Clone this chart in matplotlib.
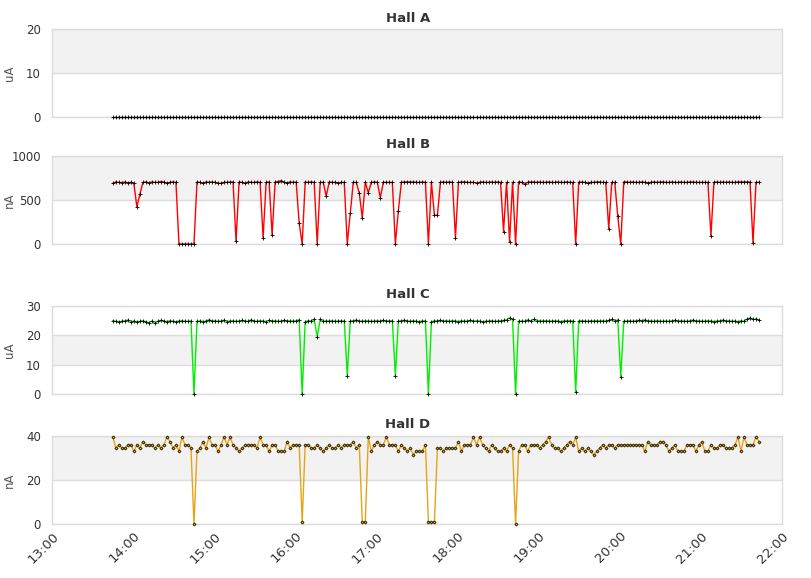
import matplotlib
matplotlib.use("Agg")
import matplotlib.pyplot as plt
import matplotlib.dates as mdates
import pandas as pd

# sample times (one reading every ~2.2 min)
t_start = "2024-01-01 13:45"
t_end = "2024-01-01 21:43"
n_points = 216

hall_a = [
    0, 0, 0, 0, 0, 0, 0, 0, 0, 0, 0, 0, 0, 0, 0, 0, 0, 0, 0, 0, 0, 0, 0, 0,
    0, 0, 0, 0, 0, 0, 0, 0, 0, 0, 0, 0, 0, 0, 0, 0, 0, 0, 0, 0, 0, 0, 0, 0,
    0, 0, 0, 0, 0, 0, 0, 0, 0, 0, 0, 0, 0, 0, 0, 0, 0, 0, 0, 0, 0, 0, 0, 0,
    0, 0, 0, 0, 0, 0, 0, 0, 0, 0, 0, 0, 0, 0, 0, 0, 0, 0, 0, 0, 0, 0, 0, 0,
    0, 0, 0, 0, 0, 0, 0, 0, 0, 0, 0, 0, 0, 0, 0, 0, 0, 0, 0, 0, 0, 0, 0, 0,
    0, 0, 0, 0, 0, 0, 0, 0, 0, 0, 0, 0, 0, 0, 0, 0, 0, 0, 0, 0, 0, 0, 0, 0,
    0, 0, 0, 0, 0, 0, 0, 0, 0, 0, 0, 0, 0, 0, 0, 0, 0, 0, 0, 0, 0, 0, 0, 0,
    0, 0, 0, 0, 0, 0, 0, 0, 0, 0, 0, 0, 0, 0, 0, 0, 0, 0, 0, 0, 0, 0, 0, 0,
    0, 0, 0, 0, 0, 0, 0, 0, 0, 0, 0, 0, 0, 0, 0, 0, 0, 0, 0, 0, 0, 0, 0, 0,
]

hall_b = [
    690, 705, 700, 698, 705, 695, 700, 690, 420, 565, 700, 705,
    695, 705, 700, 700, 710, 705, 690, 700, 705, 700, 0, 0,
    0, 0, 0, 0, 705, 700, 690, 705, 700, 705, 700, 690,
    690, 700, 700, 705, 705, 30, 705, 700, 690, 705, 700, 700,
    705, 700, 72, 700, 705, 99, 705, 710, 720, 700, 695, 705,
    700, 705, 235, 0, 705, 700, 705, 700, 0, 700, 700, 545,
    705, 700, 700, 695, 700, 700, 0, 350, 700, 700, 576, 300,
    700, 583, 700, 705, 700, 526, 700, 700, 700, 700, 0, 378,
    700, 705, 705, 705, 705, 700, 700, 705, 700, 0, 700, 326,
    326, 700, 705, 700, 705, 700, 72, 700, 705, 705, 700, 700,
    700, 695, 700, 705, 700, 700, 705, 700, 705, 700, 140, 700,
    26, 700, 0, 705, 700, 680, 700, 705, 705, 700, 705, 700,
    700, 705, 700, 700, 705, 700, 700, 705, 700, 700, 0, 700,
    705, 700, 690, 700, 700, 705, 705, 700, 700, 174, 700, 700,
    318, 0, 705, 705, 700, 705, 700, 700, 705, 700, 695, 700,
    705, 700, 705, 705, 700, 700, 705, 700, 700, 705, 700, 700,
    705, 705, 700, 700, 700, 700, 700, 95, 700, 705, 700, 705,
    700, 705, 700, 700, 705, 705, 705, 705, 705, 15, 700, 700,
]

hall_c = [
    25.0, 24.8, 24.6, 24.8, 25.0, 25.2, 24.7, 24.9, 24.5, 24.8, 25.0, 24.6,
    24.3, 24.9, 24.2, 24.8, 25.1, 24.9, 24.7, 25.0, 24.8, 24.6, 24.9, 25.0,
    24.8, 24.8, 24.9, 0.0, 24.8, 24.9, 24.7, 24.9, 25.3, 24.9, 25.0, 24.8,
    24.9, 25.2, 24.7, 24.9, 25.0, 24.8, 24.9, 25.1, 24.9, 24.8, 25.3, 24.9,
    24.8, 25.0, 24.9, 24.7, 25.1, 24.9, 25.0, 24.8, 24.9, 25.1, 24.9, 25.0,
    24.8, 25.0, 25.3, 0.0, 24.7, 25.0, 24.9, 25.4, 19.5, 25.4, 24.8, 24.9,
    24.9, 25.0, 24.8, 24.9, 25.0, 24.9, 6.3, 24.9, 25.0, 25.2, 24.9, 24.8,
    25.0, 24.9, 24.8, 24.9, 25.0, 24.9, 25.1, 24.9, 25.0, 25.0, 6.3, 24.9,
    25.0, 25.1, 24.9, 24.8, 25.0, 24.8, 24.7, 24.9, 25.0, 0.0, 24.7, 24.9,
    25.0, 25.1, 24.9, 25.0, 24.8, 25.0, 24.9, 24.7, 25.0, 24.9, 24.8, 25.1,
    24.9, 25.0, 24.9, 24.6, 24.8, 24.9, 25.0, 24.8, 24.9, 25.0, 25.1, 25.3,
    26.0, 25.4, 0.0, 24.8, 24.9, 24.8, 25.3, 24.9, 25.4, 24.9, 25.0, 24.9,
    25.0, 24.9, 24.8, 25.0, 24.9, 24.7, 24.9, 25.0, 25.0, 24.9, 0.8, 24.9,
    25.0, 24.9, 24.8, 25.0, 24.9, 25.0, 24.9, 25.0, 24.9, 25.1, 25.4, 24.9,
    25.3, 5.9, 24.8, 24.9, 25.0, 24.8, 25.0, 25.1, 25.0, 25.3, 24.9, 25.0,
    24.8, 25.0, 24.9, 24.8, 24.9, 24.8, 25.0, 25.1, 24.9, 25.0, 24.9, 24.8,
    25.0, 25.2, 24.9, 25.0, 24.8, 24.9, 25.0, 24.9, 24.7, 24.9, 25.0, 25.2,
    24.9, 25.0, 24.8, 24.9, 24.6, 25.0, 24.8, 25.5, 26.0, 25.4, 25.6, 25.3,
]

hall_d = [
    39.5, 34.5, 36, 34.5, 34.5, 36, 36, 33, 36, 34.5, 37.5, 36,
    36, 36, 34.5, 36, 34.5, 36, 39.5, 37.5, 34.5, 36, 33, 39.5,
    36, 36, 34.5, 0, 33, 34.5, 37.5, 34.5, 39.5, 36, 36, 33,
    36, 39.5, 36, 39.5, 36, 34.5, 33, 34.5, 36, 36, 36, 36,
    34.5, 39.5, 36, 36, 33, 36, 36, 33, 33, 33, 37.5, 34.5,
    36, 36, 36, 1, 36, 36, 34.5, 34.5, 36, 34.5, 33, 34.5,
    36, 34.5, 34.5, 36, 34.5, 36, 36, 36, 37.5, 34.5, 36, 1,
    1, 39.5, 33, 36, 37.5, 36, 36, 39.5, 36, 36, 36, 33,
    36, 34.5, 33, 34.5, 31.5, 33, 33, 33, 36, 1, 1, 1,
    34.5, 34.5, 33, 34.5, 34.5, 34.5, 34.5, 37.5, 33, 36, 36, 36,
    39.5, 36, 39.5, 36, 34.5, 33, 36, 34.5, 33, 33, 34.5, 33,
    36, 34.5, 0, 33, 36, 36, 33, 36, 36, 36, 34.5, 36,
    37.5, 39.5, 36, 34.5, 34.5, 33, 34.5, 36, 37.5, 36, 39.5, 33,
    34.5, 33, 34.5, 33, 31.5, 33, 34.5, 36, 34.5, 36, 36, 34.5,
    36, 36, 36, 36, 36, 36, 36, 36, 36, 33, 37.5, 36,
    36, 36, 37.5, 37.5, 36, 33, 34.5, 36, 33, 33, 33, 36,
    36, 36, 33, 36, 37.5, 33, 33, 36, 34.5, 34.5, 36, 36,
    34.5, 34.5, 34.5, 36, 39.5, 33, 39.5, 36, 36, 36, 39.5, 37.5,
]

titles = ["Hall A", "Hall B", "Hall C", "Hall D"]
units = ["uA", "nA", "uA", "nA"]
y_ticks = [[0, 10, 20], [0, 500, 1000], [0, 10, 20, 30], [0, 20, 40]]
colors = ["#000000", "#ff0000", "#00ee00", "#e6a417"]
series = [hall_a, hall_b, hall_c, hall_d]

times = pd.date_range(t_start, t_end, periods=n_points)

fig = plt.figure(figsize=(8.11, 5.78), dpi=100)
plt.rcParams["font.family"] = "DejaVu Sans"

# axes boxes in pixels: (top, bottom)
W, H = 811, 578
left, right = 52, 782
boxes = [(29, 117), (156, 244), (306, 394), (436, 524)]

grid_col = "#dcdcdc"
band_col = "#f2f2f2"

axes = []
for i, (top, bot) in enumerate(boxes):
    ax = fig.add_axes([left / W, 1 - bot / H, (right - left) / W, (bot - top) / H])
    axes.append(ax)
    ticks = y_ticks[i]
    ax.set_ylim(ticks[0], ticks[-1])
    ax.set_yticks(ticks)
    # alternating bands
    for k in range(len(ticks) - 1):
        if k % 2 == 1:
            ax.axhspan(ticks[k], ticks[k + 1], color=band_col, lw=0, zorder=0)
    for t in ticks:
        ax.axhline(t, color=grid_col, lw=1, zorder=1)
    for s in ax.spines.values():
        s.set_color(grid_col)
        s.set_linewidth(1)

    if i == 3:
        ax.plot(times, series[i], color=colors[i], lw=1, zorder=3, clip_on=False,
                marker="D", ms=1.6, mfc=colors[i], mec="black", mew=0.5)
    else:
        ax.plot(times, series[i], color=colors[i], lw=1, zorder=3, clip_on=False,
                marker="+", ms=3, mec="black", mew=0.6)

    ax.set_xlim(pd.Timestamp("2024-01-01 13:00"), pd.Timestamp("2024-01-01 22:00"))
    ax.xaxis.set_major_locator(mdates.HourLocator())
    ax.xaxis.set_major_formatter(mdates.DateFormatter("%H:%M"))
    ax.tick_params(length=0, pad=8, labelsize=8.5, colors="#333333")
    ax.set_ylabel(units[i], fontsize=8.5, color="#555555")
    ax.yaxis.set_label_coords(-36 / (right - left), 0.5)
    if i < 3:
        ax.tick_params(axis="x", labelbottom=False)
    else:
        ax.tick_params(axis="x", pad=4, labelsize=9.5)
        for lab in ax.get_xticklabels():
            lab.set_rotation(45)
            lab.set_ha("right")
            lab.set_rotation_mode("anchor")
    fig.text(408 / W, 1 - (top - 11) / H, titles[i], ha="center", va="center",
             fontsize=9.5, fontweight="bold", color="#333333")

fig.savefig("out.png", dpi=100)
